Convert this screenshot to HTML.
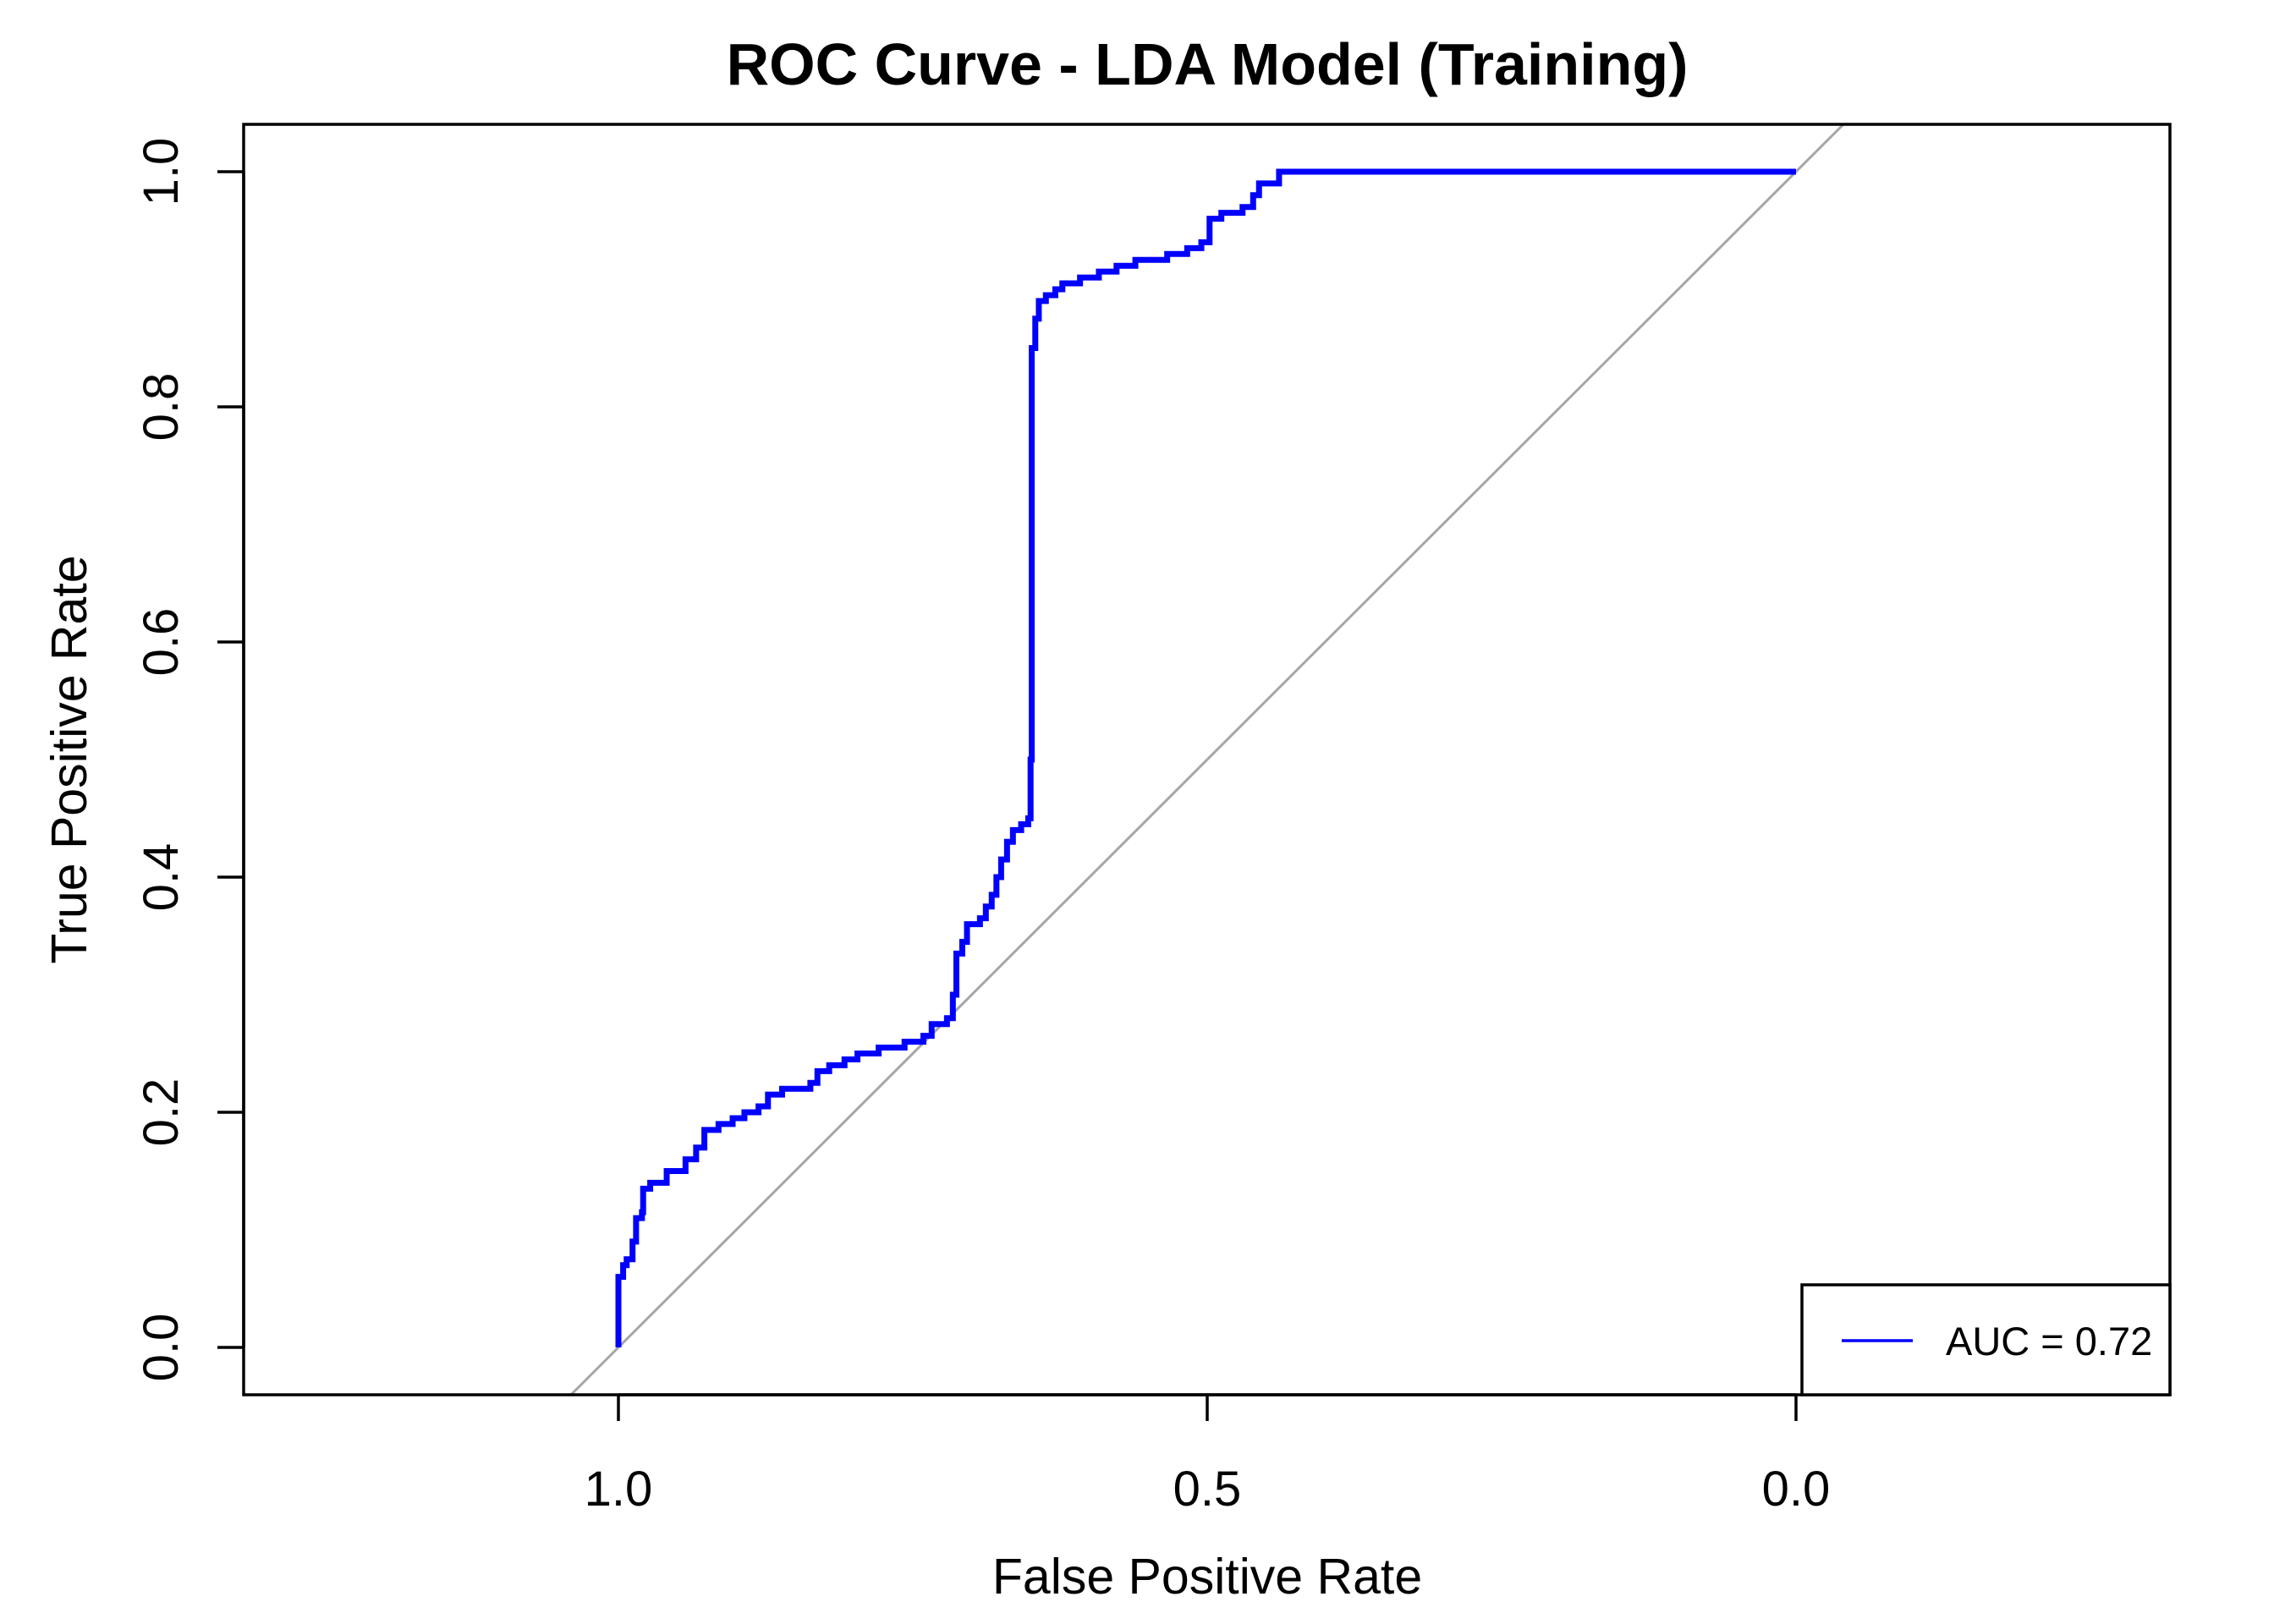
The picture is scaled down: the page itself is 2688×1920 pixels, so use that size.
<!DOCTYPE html>
<html><head><meta charset="utf-8"><style>
html,body{margin:0;padding:0;background:#fff;overflow:hidden;width:2688px;height:1920px;}
svg{display:block;font-family:"Liberation Sans",Arial,sans-serif;}
</style></head><body>
<svg id="chart" width="2688" height="1920" viewBox="0 0 2688 1920" xmlns="http://www.w3.org/2000/svg">
<rect width="2688" height="1920" fill="#fff"/>
<text x="1427" y="100" text-anchor="middle" font-size="70" font-weight="bold">ROC Curve - LDA Model (Training)</text>
<g id="plot"></g>
<rect x="288" y="147" width="2277" height="1502" fill="none" stroke="#000" stroke-width="3.5"/>
<text x="1427" y="1884" text-anchor="middle" font-size="59">False Positive Rate</text>
<text transform="translate(102,898) rotate(-90)" text-anchor="middle" font-size="59">True Positive Rate</text>
<g>
<rect x="2130" y="1519" width="435" height="130" fill="#fff" stroke="#000" stroke-width="3.5"/>
<line x1="2177" y1="1585" x2="2261" y2="1585" stroke="#0000ff" stroke-width="3.5"/>
<text x="2300" y="1602" font-size="47">AUC = 0.72</text>
</g>
</svg>
<script>
const specificity = [1.0,1.0,0.996,0.993,0.988,0.985,0.980,0.979,0.973,0.959,0.943,0.934,0.927,0.915,0.903,0.893,0.881,0.873,0.861,0.837,0.831,0.821,0.808,0.797,0.779,0.757,0.741,0.734,0.721,0.716,0.713,0.708,0.704,0.693,0.688,0.683,0.679,0.675,0.670,0.665,0.658,0.652,0.650,0.649,0.646,0.643,0.637,0.629,0.623,0.608,0.592,0.577,0.561,0.534,0.517,0.505,0.498,0.488,0.470,0.461,0.456,0.439,0.0];
const sensitivity = [0.0,0.06,0.07,0.075,0.09,0.11,0.115,0.135,0.14,0.15,0.16,0.17,0.185,0.19,0.195,0.2,0.205,0.215,0.22,0.225,0.235,0.24,0.245,0.25,0.255,0.26,0.265,0.275,0.28,0.3,0.335,0.345,0.36,0.365,0.375,0.385,0.4,0.415,0.43,0.44,0.445,0.45,0.5,0.85,0.875,0.89,0.895,0.9,0.905,0.91,0.915,0.92,0.925,0.93,0.935,0.94,0.96,0.965,0.97,0.98,0.99,1.0,1.0];
const xTicks = [1.0,0.5,0.0];
const xTickLabels = ["1.0","0.5","0.0"];
const yTicks = [0.0,0.2,0.4,0.6,0.8,1.0];
const yTickLabels = ["0.0","0.2","0.4","0.6","0.8","1.0"];

const NS="http://www.w3.org/2000/svg";
const X0=288,X1=2565,Y0=147,Y1=1649;
function xs(v){return 2123 + (731-2123)*v;}
function ys(v){return 1593 + (203-1593)*v;}
const g=document.getElementById('plot');
function mk(t,a){const e=document.createElementNS(NS,t);for(const k in a)e.setAttribute(k,a[k]);g.appendChild(e);return e;}

const defs=mk('defs',{});
const cp=document.createElementNS(NS,'clipPath');cp.setAttribute('id','clip');
const cr=document.createElementNS(NS,'rect');cr.setAttribute('x',X0);cr.setAttribute('y',Y0);cr.setAttribute('width',X1-X0);cr.setAttribute('height',Y1-Y0);
cp.appendChild(cr);defs.appendChild(cp);

const diag=mk('line',{x1:xs(1.5),y1:ys(-0.5),x2:xs(-0.5),y2:ys(1.5),stroke:'#a6a6a6','stroke-width':3,'clip-path':'url(#clip)'});



let d='M'+xs(specificity[0])+','+ys(sensitivity[0]);
for(let i=1;i<specificity.length;i++){
  d+=' L'+xs(specificity[i])+','+ys(sensitivity[i-1])+' L'+xs(specificity[i])+','+ys(sensitivity[i]);
}
const curve=mk('path',{d:d,fill:'none',stroke:'#0000ff','stroke-width':7,'stroke-linejoin':'miter'});



const xa=mk('line',{x1:xs(xTicks[0]),y1:Y1,x2:xs(xTicks[xTicks.length-1]),y2:Y1,stroke:'#000','stroke-width':3.5});


xTicks.forEach((v,i)=>{
  const t=mk('line',{x1:xs(v),y1:Y1,x2:xs(v),y2:Y1+31,stroke:'#000','stroke-width':3.5});
  
  
  const l=mk('text',{x:xs(v),y:1780,'text-anchor':'middle','font-size':58});
  l.textContent=xTickLabels[i];
  
  
});
const ya=mk('line',{x1:X0,y1:ys(yTicks[0]),x2:X0,y2:ys(yTicks[yTicks.length-1]),stroke:'#000','stroke-width':3.5});


yTicks.forEach((v,i)=>{
  const t=mk('line',{x1:X0,y1:ys(v),x2:X0-31,y2:ys(v),stroke:'#000','stroke-width':3.5});
  
  
  const l=mk('text',{transform:'translate(210,'+ys(v)+') rotate(-90)','text-anchor':'middle','font-size':58});
  l.textContent=yTickLabels[i];
  
  
});
</script>
</body></html>
